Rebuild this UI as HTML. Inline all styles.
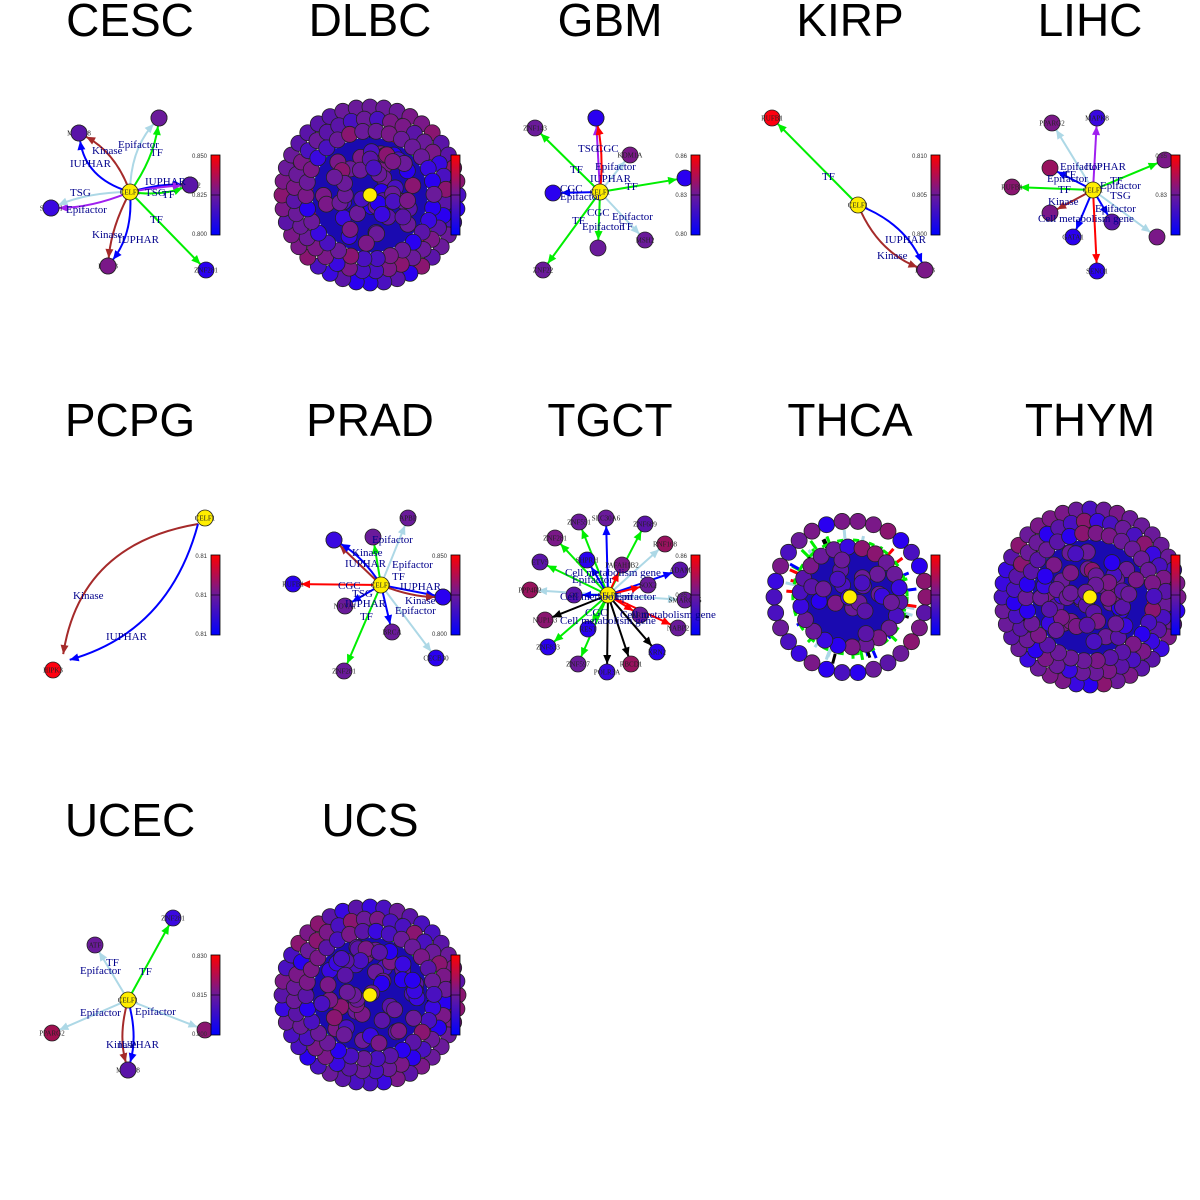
<!DOCTYPE html>
<html><head><meta charset="utf-8"><style>
html,body{margin:0;padding:0;background:#fff;}
svg{display:block;}
.t{font-family:"Liberation Sans",sans-serif;font-size:46px;text-anchor:middle;}
.nl{font-family:"Liberation Serif",serif;font-size:7px;text-anchor:middle;fill:#222;}
.el{font-family:"Liberation Serif",serif;font-size:11px;fill:#00008b;}
.cb{font-family:"Liberation Sans",sans-serif;font-size:6px;fill:#333;text-anchor:end;}
</style></head><body>
<svg id="s" width="1200" height="1200" viewBox="0 0 1200 1200" xmlns="http://www.w3.org/2000/svg">
<defs>
<linearGradient id="g" x1="0" y1="1" x2="0" y2="0">
<stop offset="0" stop-color="#0000ff"/><stop offset="0.5" stop-color="#6a1a9a"/><stop offset="1" stop-color="#ff0000"/>
</linearGradient>
</defs>
<text class="t" x="130" y="36">CESC</text>
<text class="t" x="370" y="36">DLBC</text>
<text class="t" x="610" y="36">GBM</text>
<text class="t" x="850" y="36">KIRP</text>
<text class="t" x="1090" y="36">LIHC</text>
<text class="t" x="130" y="436">PCPG</text>
<text class="t" x="370" y="436">PRAD</text>
<text class="t" x="610" y="436">TGCT</text>
<text class="t" x="850" y="436">THCA</text>
<text class="t" x="1090" y="436">THYM</text>
<text class="t" x="130" y="836">UCEC</text>
<text class="t" x="370" y="836">UCS</text>
<g id="e"></g><g id="n"></g><g id="l"></g>
</svg>
<script>
var NS="http://www.w3.org/2000/svg";
function el(p,tag,a,txt){var e=document.createElementNS(NS,tag);for(var k in a)e.setAttribute(k,a[k]);if(txt)e.textContent=txt;document.getElementById(p).appendChild(e);return e;}
var seed=7;function rnd(){seed=(seed*16807)%2147483647;return seed/2147483647;}
var cols=["#2a00f0","#3a08e0","#4a10c0","#4a10c0","#5a14a8","#5a14a8","#6a1a9a","#6a1a9a","#6a1a9a","#7a1888","#7a1888","#8a1570"];
function node(x,y,c,lab,r){el("n","circle",{cx:x,cy:y,r:r||8,fill:c,stroke:"#222","stroke-width":0.8});if(lab)el("n","text",{class:"nl",x:x,y:y+2.5},lab);}
function edge(x1,y1,x2,y2,c,bend){var mx=(x1+x2)/2,my=(y1+y2)/2,dx=x2-x1,dy=y2-y1,L=Math.sqrt(dx*dx+dy*dy)||1;var b=bend||0;var cx=mx-dy/L*b,cy=my+dx/L*b;
var tx=x2-cx,ty=y2-cy,tl=Math.sqrt(tx*tx+ty*ty)||1;tx/=tl;ty/=tl;var ex=x2-tx*8,ey=y2-ty*8;
el("e","path",{d:"M"+x1+" "+y1+" Q"+cx+" "+cy+" "+ex+" "+ey,fill:"none",stroke:c,"stroke-width":2});
var bx=ex-tx*9,by=ey-ty*9;el("e","polygon",{points:ex+","+ey+" "+(bx-ty*4)+","+(by+tx*4)+" "+(bx+ty*4)+","+(by-tx*4),fill:c});}
function lab(x,y,t){el("l","text",{class:"el",x:x,y:y},t);}
function cbar(ox,oy,a,b,c){el("n","rect",{x:ox+211,y:oy+155,width:9,height:80,fill:"url(#g)",stroke:"#000","stroke-width":0.8});
el("n","line",{x1:ox+211,x2:ox+220,y1:oy+195,y2:oy+195,stroke:"#000","stroke-width":0.6});
if(a){el("n","text",{class:"cb",x:ox+207,y:oy+158},a);el("n","text",{class:"cb",x:ox+207,y:oy+197},b);el("n","text",{class:"cb",x:ox+207,y:oy+236},c);}}
var R="#a52a2a",B="#0000ff",G="#00ee00",LB="#add8e6",P="#a020f0",RD="#ff0000",K="#000";
function star(cx,cy,nodes){nodes.forEach(function(n){edge(cx,cy,n[0],n[1],n[3],n[5]||0);});nodes.forEach(function(n){node(n[0],n[1],n[2],n[4]);});node(cx,cy,"#ffee00","CELF1");}
// CESC
star(130,192,[[79,133,"#5a14a8",B,"MAPK8",-25],[79,133,"#5a14a8",R,null,15],[159,118,"#6a1a9a",G,"REST",10],[159,118,"#6a1a9a",LB,null,-15],[190,185,"#5a14a8",B,"NR2C2",-5],[190,185,"#5a14a8",G,null,8],[190,185,"#5a14a8",P,null,-2],[51,208,"#3a08e0",P,"SHPRH",-8],[51,208,"#3a08e0",LB,null,8],[108,266,"#7a1888",R,"HIPK3",8],[108,266,"#7a1888",B,null,-15],[206,270,"#2a00f0",G,"ZNF281",0]]);
lab(92,154,"Kinase");lab(70,167,"IUPHAR");lab(118,148,"Epifactor");lab(150,156,"TF");lab(145,185,"IUPHAR");lab(145,196,"TSG");lab(162,198,"TF");lab(70,196,"TSG");lab(66,213,"Epifactor");lab(150,223,"TF");lab(92,238,"Kinase");lab(118,243,"IUPHAR");
cbar(0,0,"0.850","0.825","0.800");
// GBM
star(600,192,[[535,128,"#6a1a9a",G,"ZNF143"],[596,118,"#2a00f0",P,"",0],[596,118,"#2a00f0",RD,null,6],[630,155,"#7a1888",LB,"KDM1A"],[553,193,"#2a00f0",B,"",0],[685,178,"#2a00f0",G,"",0],[598,248,"#6a1a9a",G,"",0],[645,240,"#6a1a9a",LB,"MSH2"],[543,270,"#6a1a9a",G,"ZNF22"]]);
lab(578,152,"TSG");lab(596,152,"CGC");lab(595,170,"Epifactor");lab(590,182,"IUPHAR");lab(570,173,"TF");lab(560,192,"CGC");lab(560,200,"Epifactor");lab(625,190,"TF");lab(587,216,"CGC");lab(612,220,"Epifactor");lab(572,224,"TF");lab(582,230,"Epifactor");lab(620,230,"TF");
cbar(480,0,"0.86","0.83","0.80");
// KIRP
star(858,205,[[772,118,"#ff0010",G,"RUFB1"],[925,270,"#7a1888",R,"HIPK3",20],[925,270,"#7a1888",B,null,-20]]);
lab(822,180,"TF");lab(885,243,"IUPHAR");lab(877,259,"Kinase");
cbar(720,0,"0.810","0.805","0.800");
// LIHC
star(1093,190,[[1052,123,"#7a1888",LB,"PPARG2"],[1097,118,"#3a08e0",P,"MAPK8"],[1050,168,"#98125e",B,""],[1012,187,"#8a1570",G,"RUFB1"],[1165,160,"#7a1888",G,""],[1050,213,"#7a1888",R,""],[1073,237,"#2a00f0",B,"GATA1"],[1112,222,"#5a14a8",B,""],[1157,237,"#7a1888",LB,""],[1097,271,"#2a00f0",RD,"SENO1"]]);
lab(1060,170,"Epifactor");lab(1085,170,"IUPHAR");lab(1063,178,"TF");lab(1047,182,"Epifactor");lab(1058,193,"TF");lab(1048,205,"Kinase");lab(1038,222,"Cell metabolism gene");lab(1110,184,"TF");lab(1100,189,"Epifactor");lab(1110,199,"TSG");lab(1095,212,"Epifactor");
cbar(960,0,"0.85","0.83","");
// PCPG
edge(198,524,62,662,R,70);edge(198,524,62,662,B,-55);node(53,670,"#ff0010","HIPK3");node(205,518,"#ffee00","CELF1");
lab(73,599,"Kinase");lab(106,640,"IUPHAR");
cbar(0,400,"0.81","0.81","0.81");
// PRAD
star(381,585,[[408,518,"#6a1a9a",LB,"APBP"],[373,537,"#6a1a9a",G,""],[334,540,"#3a08e0",R,"ZBF"],[334,540,"#3a08e0",B,null,8],[293,584,"#2a00f0",RD,"RUFB1"],[345,606,"#6a1a9a",B,"NOVA1"],[443,597,"#2a00f0",B,""],[443,597,"#2a00f0",R,null,6],[392,632,"#6a1a9a",B,"BRCA"],[436,658,"#2a00f0",LB,"CECB30"],[344,671,"#6a1a9a",G,"ZNF281"]]);
lab(372,543,"Epifactor");lab(352,556,"Kinase");lab(345,567,"IUPHAR");lab(392,568,"Epifactor");lab(338,589,"CGC");lab(392,580,"TF");lab(400,590,"IUPHAR");lab(405,604,"Kinase");lab(352,597,"TSG");lab(345,607,"IUPHAR");lab(395,614,"Epifactor");lab(360,620,"TF");
cbar(240,400,"0.850","","0.800");
// TGCT
star(608,595,[[579,522,"#6a1a9a",G,"ZNF551"],[606,518,"#6a1a9a",B,"SLC30A6"],[645,524,"#5a14a8",G,"ZNF689"],[665,544,"#98125e",LB,"RNF168"],[680,570,"#5a14a8",B,"ADAM"],[540,562,"#5a14a8",G,"ETV5"],[555,538,"#7a1888",G,"ZNF281"],[530,590,"#98125e",LB,"PPP4R2"],[685,600,"#6a1a9a",LB,"SMARCA5"],[545,620,"#8a1570",K,"NUP153"],[574,595,"#5a14a8",B,"GC"],[622,565,"#7a1888",RD,"PAFAH1B2"],[648,585,"#6a1a9a",RD,"SOX2"],[640,615,"#6a1a9a",RD,"ARID"],[678,628,"#6a1a9a",RD,"NABP2"],[588,629,"#2a00f0",G,"REST"],[548,647,"#2a00f0",G,"ZNF833"],[578,664,"#6a1a9a",G,"ZNF597"],[607,672,"#3a08e0",K,"POLR3A"],[631,664,"#98125e",K,"RBCD1"],[657,652,"#2a00f0",K,"XRN2"],[587,560,"#2a00f0",B,"SHPRH"]]);
lab(565,576,"Cell metabolism gene");lab(572,583,"Epifactor");lab(560,600,"Cell metabolism");lab(615,600,"Epifactor");lab(560,624,"Cell metabolism gene");lab(620,618,"Cell metabolism gene");lab(585,616,"CGC");
cbar(480,400,"0.86","0.85","");
// UCEC
star(128,1000,[[95,945,"#6a1a9a",LB,"ATF"],[173,918,"#3a08e0",G,"ZNF281"],[52,1033,"#a01050",LB,"PPARG2"],[205,1030,"#8a1570",LB,""],[128,1070,"#5a14a8",R,"MAPK8",10],[128,1070,"#5a14a8",B,null,-10]]);
lab(106,966,"TF");lab(80,974,"Epifactor");lab(139,975,"TF");lab(80,1016,"Epifactor");lab(135,1015,"Epifactor");lab(106,1048,"Kinase");lab(118,1048,"IUPHAR");
cbar(0,800,"0.830","0.815","0.800");
function dense(cx,cy,R0,rings,inner,sparse){
  var ec=[G,LB,B,K,G,LB,RD];
  for(var i=0;i<(sparse?50:120);i++){var a=rnd()*6.283,r=R0*0.55+rnd()*R0*0.15;el("e","line",{x1:cx+Math.cos(a)*r,y1:cy+Math.sin(a)*r,x2:cx+Math.cos(a)*(r+10),y2:cy+Math.sin(a)*(r+10),stroke:ec[i%7],"stroke-width":3});}
  el("e","circle",{cx:cx,cy:cy,r:R0*0.6,fill:"#1a0ab0"});
  el("e","circle",{cx:cx,cy:cy,r:R0*0.68,fill:"none",stroke:G,"stroke-width":3,"stroke-dasharray":"6 10"});
  rings.forEach(function(rg){var n=rg[1];for(var i=0;i<n;i++){var a=i/n*6.283+rg[2];node(cx+Math.cos(a)*rg[0],cy+Math.sin(a)*rg[0],cols[Math.floor(rnd()*cols.length)],"",8);}});
  for(var i=0;i<inner;i++){var a=rnd()*6.283,r=Math.sqrt(rnd())*R0*0.52;node(cx+Math.cos(a)*r,cy+Math.sin(a)*r,cols[Math.floor(rnd()*cols.length)],"",8);}
  node(cx,cy,"#ffee00","",7);
}
dense(370,195,96,[[88,40,0],[76,36,0.1],[64,30,0.2]],55,false);cbar(240,0);
dense(850,597,84,[[76,30,0],[50,22,0.1]],20,true);cbar(720,400);
dense(1090,597,96,[[88,40,0],[76,36,0.1],[64,30,0.2]],55,false);cbar(960,400);
dense(370,995,96,[[88,40,0],[76,36,0.1],[64,30,0.2]],55,false);cbar(240,800);
</script>
</body></html>
